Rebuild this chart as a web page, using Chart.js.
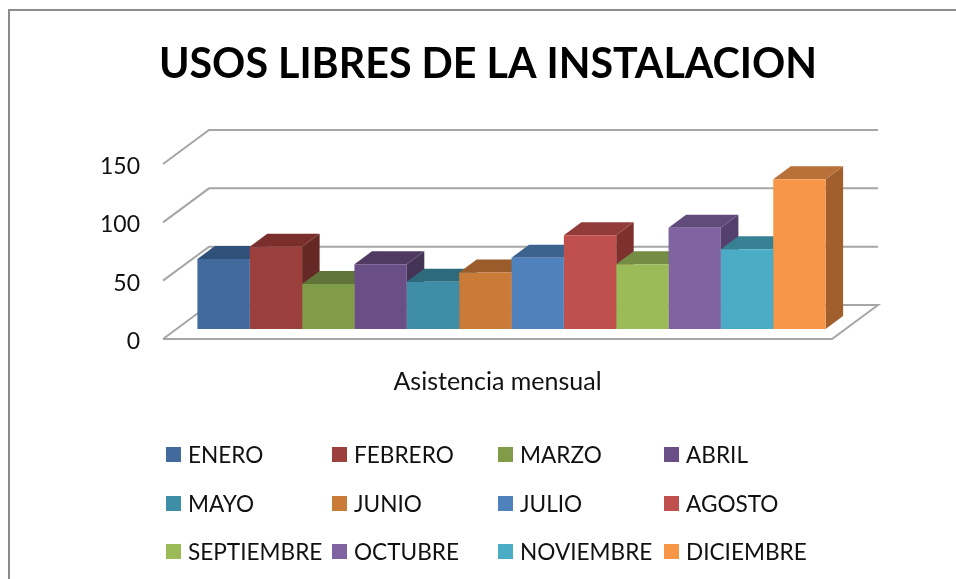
<!DOCTYPE html>
<html lang="es">
<head>
<meta charset="utf-8">
<title>Usos libres de la instalacion</title>
<script src="https://cdn.jsdelivr.net/npm/chart.js@4"></script>
<style>
  html, body { margin: 0; padding: 0; background: #fff; overflow: hidden; }
  #page { position: relative; width: 956px; height: 579px; }
  #frame { position: absolute; left: 8px; top: 9px; width: 960px; height: 600px; border: 2px solid #8c8c8c; }
  #chart { position: absolute; left: 0; top: 0; }
  .legend-item { position: absolute; font: 22.6px Lato, sans-serif; color: #111; line-height: 28px; white-space: nowrap; }
  .legend-box { position: absolute; left: -22px; top: 6px; width: 15px; height: 15px; }
</style>
</head>
<body>
<div id="page">
  <div id="frame"></div>
  <canvas id="chart" width="956" height="579"></canvas>
  <div id="legend"></div>
</div>
<script>
// datos
var categories = ['Asistencia mensual'];
var months = ['ENERO', 'FEBRERO', 'MARZO', 'ABRIL', 'MAYO', 'JUNIO', 'JULIO', 'AGOSTO', 'SEPTIEMBRE', 'OCTUBRE', 'NOVIEMBRE', 'DICIEMBRE'];
var values = [60, 70.5, 38.5, 55.5, 40.5, 48.5, 61, 80.3, 55.5, 86.8, 68.3, 128.3];
var yTicks = [0, 50, 100, 150];
var frontColors = ['#426A9C', '#9C403D', '#809C48', '#6A4F86', '#3D8EA6', '#CB7B38', '#4F81BD', '#C0504D', '#9BBB59', '#8064A2', '#4BACC6', '#F79646'];
var topColors = ['#2F5078', '#7A2F2C', '#61743A', '#4F3B62', '#2D6A7C', '#9A5C2A', '#3C628E', '#913C3A', '#748C43', '#604B7A', '#388194', '#B9713A'];
var sideColors = ['#263F5E', '#662825', '#4F5F2E', '#433355', '#255867', '#7F4B22', '#315274', '#7E302E', '#5F7337', '#54406C', '#2E6B7B', '#A05F2C'];

var GRID_COLOR = '#a6a6a6';
var WALL_DX = 46, WALL_DY = -34;   // fondo de la caja respecto al frente
var BAR_DX = 14, BAR_DY = -10;     // plano frontal de las barras
var DEPTH_DX = 17.5, DEPTH_DY = -13;

function poly(ctx, color, pts) {
  ctx.fillStyle = color;
  ctx.beginPath();
  ctx.moveTo(pts[0][0], pts[0][1]);
  for (var i = 1; i < pts.length; i++) ctx.lineTo(pts[i][0], pts[i][1]);
  ctx.closePath();
  ctx.fill();
}

// caja 3D y caras de las barras, las caras frontales las pinta Chart.js
var box3d = {
  id: 'box3d',
  beforeDraw: function (chart) {
    // las etiquetas del eje Y van un poco mas abajo que la linea
    var s = chart.scales.y, drawLabels = s.drawLabels;
    s.drawLabels = function (area) {
      chart.ctx.save();
      chart.ctx.translate(0, 2.5);
      drawLabels.call(s, area);
      chart.ctx.restore();
      s.drawLabels = drawLabels;
    };
  },
  beforeDatasetsDraw: function (chart) {
    var ctx = chart.ctx, y = chart.scales.y, area = chart.chartArea;
    ctx.save();
    ctx.strokeStyle = GRID_COLOR;
    ctx.lineWidth = 2;
    yTicks.forEach(function (t) {
      var py = y.getPixelForValue(t);
      ctx.beginPath();
      ctx.moveTo(area.left, py);
      ctx.lineTo(area.left + WALL_DX, py + WALL_DY);
      ctx.lineTo(area.right + WALL_DX, py + WALL_DY);
      if (t === 0) {
        ctx.lineTo(area.right, py);
        ctx.lineTo(area.left, py);
      }
      ctx.stroke();
    });
    ctx.translate(BAR_DX, BAR_DY);
    months.forEach(function (m, i) {
      var bar = chart.getDatasetMeta(i).data[0];
      var l = bar.x - bar.width / 2, r = bar.x + bar.width / 2, t = bar.y, b = bar.base;
      poly(ctx, sideColors[i], [[r, t], [r + DEPTH_DX, t + DEPTH_DY], [r + DEPTH_DX, b + DEPTH_DY], [r, b]]);
      poly(ctx, topColors[i], [[l, t], [l + DEPTH_DX, t + DEPTH_DY], [r + DEPTH_DX, t + DEPTH_DY], [r, t]]);
    });
  },
  afterDatasetsDraw: function (chart) {
    chart.ctx.restore();
  }
};

var datasets = months.map(function (m, i) {
  return { label: m, data: [values[i]], backgroundColor: frontColors[i], borderWidth: 0, clip: false };
});

new Chart(document.getElementById('chart'), {
  type: 'bar',
  data: { labels: categories, datasets: datasets },
  plugins: [box3d],
  options: {
    responsive: false,
    animation: false,
    categoryPercentage: 0.939,
    barPercentage: 1,
    layout: { padding: { left: 100, right: 80, top: 10, bottom: 180 } },
    plugins: {
      legend: { display: false },
      tooltip: { enabled: false },
      title: {
        display: true,
        text: 'USOS LIBRES DE LA INSTALACION',
        color: '#000',
        font: { family: 'Lato', size: 41.2, weight: 'bold', lineHeight: 1.2 },
        padding: { top: 29.5, bottom: 75.06 }
      }
    },
    scales: {
      x: {
        grid: { display: false },
        border: { display: false },
        ticks: { color: '#111', font: { family: 'Lato', size: 25 }, padding: 20, maxRotation: 0 },
        afterFit: function (s) { s.height = 60; }
      },
      y: {
        min: 0,
        max: 150,
        grid: { display: false },
        border: { display: false },
        afterBuildTicks: function (s) { s.ticks = yTicks.map(function (v) { return { value: v }; }); },
        ticks: { color: '#111', font: { family: 'Lato', size: 23 }, padding: 15 },
        afterFit: function (s) { s.width = 63; }
      },
      // eje vacio, solo reserva el margen derecho para que el titulo quede centrado
      margin: {
        position: 'right',
        grid: { display: false },
        border: { display: false },
        ticks: { display: false },
        afterFit: function (s) { s.width = 44; }
      }
    }
  }
});

// leyenda en HTML, cuatro columnas por fila
var legend = document.getElementById('legend');
months.forEach(function (m, i) {
  var item = document.createElement('div');
  item.className = 'legend-item';
  item.style.left = (188 + (i % 4) * 166) + 'px';
  item.style.top = (441 + Math.floor(i / 4) * 48.5) + 'px';
  item.textContent = m;
  var sq = document.createElement('span');
  sq.className = 'legend-box';
  sq.style.background = frontColors[i];
  item.appendChild(sq);
  legend.appendChild(item);
});
</script>
</body>
</html>
